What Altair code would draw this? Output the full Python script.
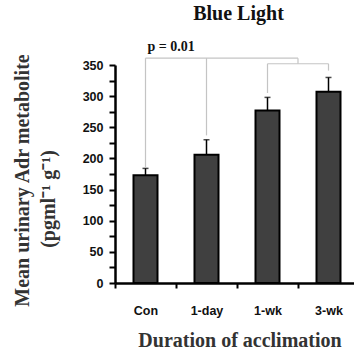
import altair as alt
import pandas as pd

# Group means and SEMs of urinary adrenaline metabolite
categories = ["Con", "1-day", "1-wk", "3-wk"]
means = [173, 206, 277, 307]
sems = [11, 24, 21, 23]

# Significance bracket: (Con, 1-day) joined to the middle of the (1-wk, 3-wk) bracket
left_group = ["Con", "1-day"]
right_group = ["1-wk", "3-wk"]
leg_bottoms = [186, 237, 305, 341]
bracket_top = 361
sub_top = 352
p_label = "p = 0.01"

chart_title = "Blue Light"
x_title = "Duration of acclimation"
y_title = "Mean  urinary Adr metabolite"
y_unit = "(pgml\u207b\u00b9 g\u207b\u00b9)"
y_tick_values = list(range(0, 351, 25))

SERIF = "Liberation Serif"
SANS = "Liberation Sans"
PLOT_W, PLOT_H = 239, 218
BAND_RANGE = [0, 244]

bars_df = pd.DataFrame({
    "group": categories,
    "mean": means,
    "upper": [m + s for m, s in zip(means, sems)],
})

# bracket segments in category-index units
idx = {c: i for i, c in enumerate(categories)}
mid = (idx[right_group[0]] + idx[right_group[1]]) / 2
rows = []
for c, b in zip(categories, leg_bottoms):
    top = bracket_top if c in left_group else sub_top
    rows.append({"x": idx[c], "x2": idx[c], "y": b, "y2": top})
rows.append({"x": idx[left_group[0]], "x2": mid, "y": bracket_top, "y2": bracket_top})
rows.append({"x": idx[right_group[0]], "x2": idx[right_group[1]], "y": sub_top, "y2": sub_top})
rows.append({"x": mid, "x2": mid, "y": sub_top, "y2": bracket_top})
bracket_df = pd.DataFrame(rows)
p_df = pd.DataFrame({"x": [idx[left_group[0]]], "y": [bracket_top], "t": [p_label]})

y_scale = alt.Scale(domain=[0, 350], nice=False, zero=True)
x_band = alt.Scale(domain=categories, range=BAND_RANGE, paddingInner=0, paddingOuter=0)
x_idx = alt.Scale(domain=[-0.5, len(categories) - 0.5], range=BAND_RANGE, nice=False, zero=False)

x_axis = alt.Axis(
    title=x_title, labelAngle=0, tickBand="extent",
    domainColor="black", domainWidth=2.5, tickColor="black", tickWidth=2, tickSize=5,
    labelFont=SANS, labelFontSize=12.5, labelFontWeight="bold", labelColor="#111",
    labelPadding=16,
    titleFont=SERIF, titleFontSize=20, titleFontWeight="bold", titleColor="#333",
    titleX=124.5, titleY=63, titleAlign="center", titleBaseline="alphabetic",
)
# same axis definition on every layer sharing the y scale, so nothing gets merged away
y_axis = alt.Axis(
    title=y_title, values=y_tick_values, grid=False, labelOverlap=False,
    labelExpr="datum.value % 50 == 0 ? datum.label : ''",
    domainColor="black", domainWidth=2.5, tickColor="black", tickWidth=2, tickSize=6,
    labelFont=SANS, labelFontSize=12.5, labelFontWeight="bold", labelColor="#111",
    labelPadding=6,
    titleFont=SERIF, titleFontSize=20, titleFontWeight="bold", titleColor="#333",
    titleAngle=270, titleX=-87, titleY=115, titleAlign="center", titleBaseline="alphabetic",
)

x_enc = alt.X("group:N", scale=x_band, sort=categories, axis=x_axis)

base = alt.Chart(bars_df)
bars = base.mark_bar(width=24, fill="#404040", stroke="black", strokeWidth=2).encode(
    x=x_enc,
    y=alt.Y("mean:Q", scale=y_scale, axis=y_axis),
)
err = base.mark_rule(color="black", strokeWidth=1.5).encode(
    x=x_enc,
    y=alt.Y("mean:Q", scale=y_scale, axis=y_axis),
    y2="upper:Q",
)
caps = base.mark_tick(color="black", thickness=1.5, size=6).encode(
    x=x_enc,
    y=alt.Y("upper:Q", scale=y_scale, axis=y_axis),
)

brackets = alt.Chart(bracket_df).mark_rule(color="#c4c4c4", strokeWidth=1.2).encode(
    x=alt.X("x:Q", scale=x_idx, axis=None),
    x2="x2:Q",
    y=alt.Y("y:Q", scale=y_scale, axis=y_axis),
    y2="y2:Q",
)
p_text = alt.Chart(p_df).mark_text(
    font=SERIF, fontSize=14, fontWeight="bold", color="#111",
    align="left", baseline="alphabetic", dx=2, dy=-7,
).encode(
    x=alt.X("x:Q", scale=x_idx, axis=None),
    y=alt.Y("y:Q", scale=y_scale, axis=y_axis),
    text="t:N",
)

unit_text = alt.Chart(pd.DataFrame({"t": [y_unit]})).mark_text(
    font=SERIF, fontSize=20, fontWeight="bold", color="#333",
    angle=270, align="center", baseline="alphabetic",
).encode(x=alt.value(-60), y=alt.value(134), text="t:N")

chart = alt.layer(
    alt.layer(bars, err, caps),
    alt.layer(brackets, p_text),
    unit_text,
).resolve_scale(x="independent").properties(
    width=PLOT_W,
    height=PLOT_H,
    title=alt.TitleParams(
        chart_title, font=SERIF, fontSize=20, fontWeight="bold", color="#111",
        anchor="middle", frame="group", dx=4, offset=16,
    ),
    autosize=alt.AutoSizeParams(type="none"),
    padding={"left": 115, "top": 65, "right": 0, "bottom": 71},
).configure_view(stroke=None)

chart.save("out.html", embed_options={"renderer": "svg", "actions": False})
